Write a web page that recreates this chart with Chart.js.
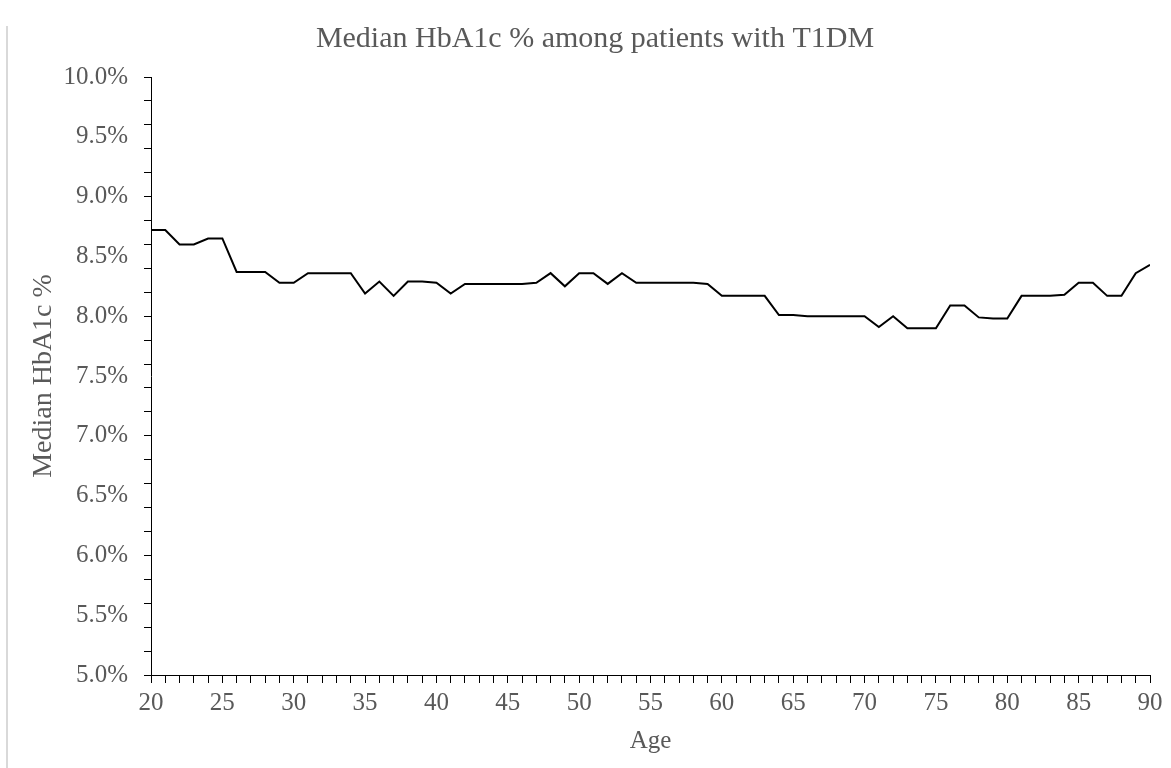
<!DOCTYPE html>
<html>
<head>
<meta charset="utf-8">
<title>Median HbA1c % among patients with T1DM</title>
<script src="https://cdn.jsdelivr.net/npm/chart.js@4.4.1/dist/chart.umd.min.js"></script>
<style>
    html, body { margin: 0; padding: 0; background: #fff; }
    #wrap { position: relative; width: 1171px; height: 768px; }
    #edge { position: absolute; left: 6px; top: 26px; width: 2px; height: 742px; background: #d9d9d9; }
</style>
</head>
<body>
<div id="wrap">
    <div id="edge"></div>
    <canvas id="hba1cChart" width="1171" height="768"></canvas>
</div>
<script>
// Data
const ages = [
    20, 21, 22, 23, 24, 25, 26, 27, 28, 29,
    30, 31, 32, 33, 34, 35, 36, 37, 38, 39,
    40, 41, 42, 43, 44, 45, 46, 47, 48, 49,
    50, 51, 52, 53, 54, 55, 56, 57, 58, 59,
    60, 61, 62, 63, 64, 65, 66, 67, 68, 69,
    70, 71, 72, 73, 74, 75, 76, 77, 78, 79,
    80, 81, 82, 83, 84, 85, 86, 87, 88, 89,
    90
];
const medianHbA1c = [
    8.72, 8.72, 8.60, 8.60, 8.65, 8.65, 8.37, 8.37, 8.37, 8.28,
    8.28, 8.36, 8.36, 8.36, 8.36, 8.19, 8.29, 8.17, 8.29, 8.29,
    8.28, 8.19, 8.27, 8.27, 8.27, 8.27, 8.27, 8.28, 8.36, 8.25,
    8.36, 8.36, 8.27, 8.36, 8.28, 8.28, 8.28, 8.28, 8.28, 8.27,
    8.17, 8.17, 8.17, 8.17, 8.01, 8.01, 8.00, 8.00, 8.00, 8.00,
    8.00, 7.91, 8.00, 7.90, 7.90, 7.90, 8.09, 8.09, 7.99, 7.98,
    7.98, 8.17, 8.17, 8.17, 8.18, 8.28, 8.28, 8.17, 8.17, 8.36,
    8.43
];
const chartTitle = "Median HbA1c % among patients with T1DM";
const xTitle = "Age";
const yTitle = "Median HbA1c %";
const yMin = 5.0, yMax = 10.0;
const xMin = 20, xMax = 90;

const textGray = "#595959";
const serif = "'Liberation Serif', 'Times New Roman', serif";

const ctx = document.getElementById("hba1cChart").getContext("2d");

new Chart(ctx, {
    type: "line",
    data: {
        datasets: [{
            label: yTitle,
            data: ages.map((a, i) => ({ x: a, y: medianHbA1c[i] })),
            borderColor: "#000",
            borderWidth: 2,
            pointRadius: 0,
            tension: 0,
            fill: false
        }]
    },
    options: {
        responsive: false,
        animation: false,
        layout: { padding: { left: 40, right: 21, top: 0, bottom: 0 } },
        plugins: {
            legend: { display: false },
            tooltip: { enabled: false },
            title: {
                display: true,
                text: chartTitle,
                color: textGray,
                font: { family: serif, size: 30, weight: "normal", lineHeight: 1.2 },
                padding: { top: 21, bottom: 20 }
            }
        },
        scales: {
            x: {
                type: "linear",
                min: xMin,
                max: xMax,
                ticks: {
                    stepSize: 1,
                    autoSkip: false,
                    maxRotation: 0,
                    color: textGray,
                    padding: 5,
                    font: { family: serif, size: 25 },
                    callback: v => (v % 5 === 0 ? String(v) : "")
                },
                grid: {
                    drawOnChartArea: false,
                    tickLength: 8,
                    tickColor: "#000"
                },
                border: { color: "#000", width: 1 },
                title: {
                    display: true,
                    text: xTitle,
                    color: textGray,
                    font: { family: serif, size: 25 },
                    padding: { top: 0, bottom: 12 }
                },
                afterFit: scale => { scale.height = 93; }
            },
            y: {
                min: yMin,
                max: yMax,
                ticks: {
                    stepSize: 0.1,
                    autoSkip: false,
                    color: textGray,
                    padding: 16,
                    font: { family: serif, size: 25 },
                    callback: v => (Math.round(v * 10) % 5 === 0 ? v.toFixed(1) + "%" : "")
                },
                grid: {
                    drawOnChartArea: false,
                    tickLength: 7,
                    // minor marks every 0.2 %
                    tickColor: c => (Math.round(c.tick.value * 10) % 2 === 0 ? "#000" : "rgba(0,0,0,0)")
                },
                border: { color: "#000", width: 1 },
                title: {
                    display: true,
                    text: yTitle,
                    color: textGray,
                    font: { family: serif, size: 28 },
                    padding: { top: -13, bottom: 0 }
                },
                afterFit: scale => { scale.width = 111; }
            }
        }
    }
});
</script>
</body>
</html>
